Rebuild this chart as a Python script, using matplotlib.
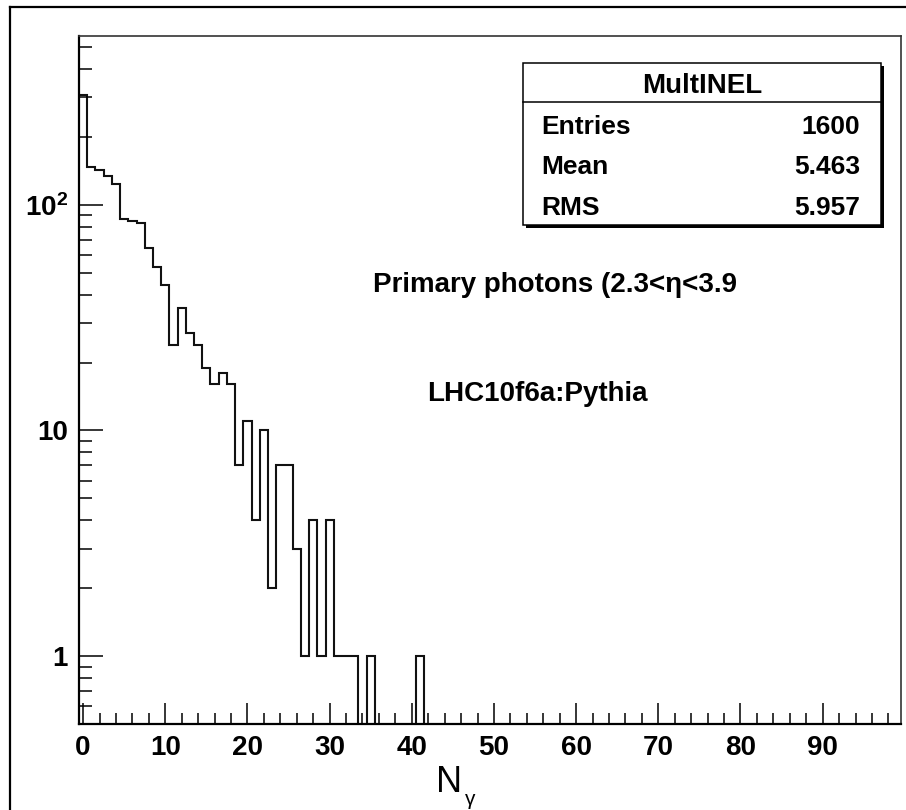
import numpy as np
import matplotlib
matplotlib.use("Agg")
import matplotlib.pyplot as plt
from matplotlib.patches import Rectangle
from matplotlib.lines import Line2D

plt.rcParams['font.family'] = ['Liberation Sans', 'DejaVu Sans']
plt.rcParams['mathtext.fontset'] = 'custom'
plt.rcParams['mathtext.rm'] = 'Liberation Sans:bold'
plt.rcParams['mathtext.bf'] = 'Liberation Sans:bold'

## histogram contents, bins centred on integers 0..99
counts = [305, 147, 143, 134, 124, 86, 85, 83, 64, 53,
          44, 24, 35, 27, 24, 19, 16, 18, 16, 7,
          11, 4, 10, 2, 7, 7, 3, 1, 4, 1,
          4, 1, 1, 1, 0, 1, 0, 0, 0, 0,
          0, 1] + [0]*58
edges = np.arange(-0.5, 100.5, 1.0)

stat_title = 'MultINEL'
stat_names = ['Entries', 'Mean', 'RMS']
stat_vals = ['1600', '5.463', '5.957']

ytick_vals = [1, 10, 100]
ytick_labels = ['1', '10', r'$\mathbf{10^{2}}$']
xtick_vals = np.arange(0, 100, 10)

W, H = 906, 810
def fx(x): return x/W
def fy(y): return 1 - y/H

fig = plt.figure(figsize=(W/100, H/100), dpi=100)
ax = fig.add_axes([fx(79), fy(724.3), fx(900.7) - fx(79), fy(35.7) - fy(724.3)])

vals = np.array(counts, dtype=float)
vals[vals == 0] = 1e-3   ## empty bins drop to the floor like ROOT
ax.stairs(vals, edges, baseline=None, color='#111111', lw=1.5)

ax.set_yscale('log')
ax.set_xlim(-0.5, 99.5)
ax.set_ylim(0.5, 560)

ax.set_xticks(xtick_vals)
ax.set_xticks(np.arange(0, 100, 2), minor=True)
ax.set_xticklabels([str(v) for v in xtick_vals])
ax.set_yticks(ytick_vals)
ax.set_yticklabels(ytick_labels)

ax.tick_params(axis='x', which='major', direction='in', length=15, width=1.1, pad=8,
               labelsize=20, top=False)
ax.tick_params(axis='x', which='minor', direction='in', length=8, width=1.1, top=False)
ax.tick_params(axis='y', which='major', direction='in', length=17, width=1.1, pad=8,
               labelsize=20, right=False)
ax.tick_params(axis='y', which='minor', direction='in', length=9, width=1.1, right=False)
for lab in ax.get_xticklabels() + ax.get_yticklabels():
    lab.set_fontweight('bold')

for s in ['left', 'bottom']:
    ax.spines[s].set_linewidth(1.6)
    ax.spines[s].set_color('black')
for s in ['top', 'right']:
    ax.spines[s].set_linewidth(1.2)
    ax.spines[s].set_color('#333333')

## outer canvas frame
fig.add_artist(Line2D([fx(10), 1.0], [fy(7), fy(7)], color='black', lw=1.6))
fig.add_artist(Line2D([fx(10), fx(10)], [fy(7), 0.0], color='black', lw=1.6))

## statistics box
bx0, bx1, by0, by1 = 522.7, 881, 62.7, 225
fig.add_artist(Rectangle((fx(bx0 + 3), fy(by1 + 3)), fx(bx1) - fx(bx0), fy(by0) - fy(by1),
                         transform=fig.transFigure, facecolor='black', edgecolor='black', lw=0))
fig.add_artist(Rectangle((fx(bx0), fy(by1)), fx(bx1) - fx(bx0), fy(by0) - fy(by1),
                         transform=fig.transFigure, facecolor='white', edgecolor='black', lw=1.1))
fig.add_artist(Line2D([fx(bx0), fx(bx1)], [fy(102.3), fy(102.3)], color='black', lw=1.1))
fig.text(fx((bx0 + bx1)/2), fy(93.3), stat_title, ha='center', va='baseline',
         fontsize=20, fontweight='bold')
for i, (n, v) in enumerate(zip(stat_names, stat_vals)):
    yb = 134 + i*40.5
    fig.text(fx(541.7), fy(yb), n, ha='left', va='baseline', fontsize=19, fontweight='bold')
    fig.text(fx(860), fy(yb), v, ha='right', va='baseline', fontsize=19, fontweight='bold')

## annotations
fig.text(fx(373.3), fy(291.7), 'Primary photons (2.3<η<3.9', ha='left', va='baseline',
         fontsize=20, fontweight='bold')
fig.text(fx(426.7), fy(401), 'LHC10f6a:Pythia', ha='left', va='baseline',
         fontsize=20, fontweight='bold')

## x axis title
fig.text(fx(436), fy(792), 'N', ha='left', va='baseline', fontsize=26)
fig.text(fx(465), fy(805), 'γ', ha='left', va='baseline', fontsize=15)

fig.savefig('out.png', dpi=100)
